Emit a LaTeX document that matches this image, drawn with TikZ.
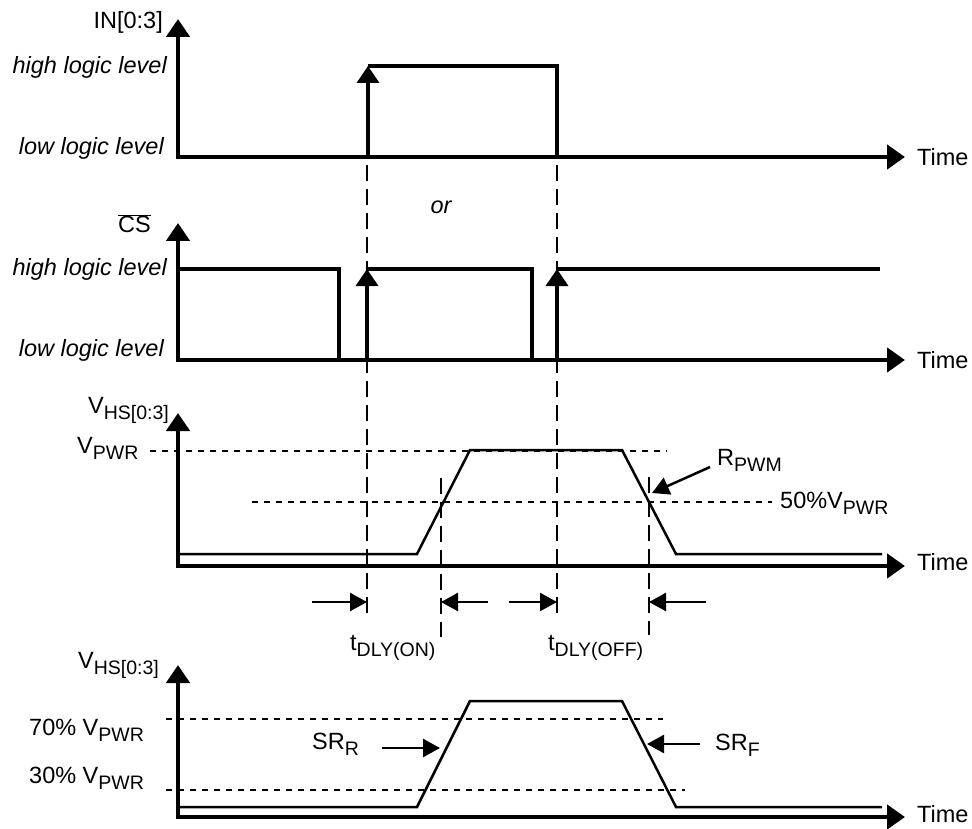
\documentclass[tikz,border=0pt]{standalone}
\usepackage{fontspec}
\setmainfont{Liberation Sans}
\usetikzlibrary{arrows.meta}
\newcommand{\lsub}[1]{\raisebox{-6pt}{\fontsize{19.5}{22}\selectfont #1}}
\tikzset{
  lbl/.style={inner sep=0pt, font=\fontsize{23.5}{27}\selectfont},
  ilbl/.style={inner sep=0pt, font=\fontsize{23.5}{27}\selectfont\itshape},
  axes/.style={line width=4.5pt, line join=miter, {Triangle[width=23pt,length=18pt]}-{Triangle[width=24pt,length=18pt]}},
  sig/.style={line width=3.5pt, line join=miter},
  sigup/.style={line width=3.5pt, -{Triangle[width=22pt,length=17pt]}},
  wave/.style={line width=2.5pt, line join=miter},
  vdash/.style={line width=1.8pt, dash pattern=on 16pt off 8pt},
  hdot/.style={line width=2pt, dash pattern=on 6pt off 6pt},
  dimarrow/.style={line width=2.5pt, -{Triangle[width=18pt,length=17pt]}},
}
\begin{document}
\begin{tikzpicture}[x=1pt,y=-1pt]
\useasboundingbox (0,0) rectangle (972,829);

% vertical dashed reference lines
\draw[vdash] (367,165) -- (367,620);
\draw[vdash] (557,165) -- (557,620);
\draw[vdash] (441,478) -- (441,637);
\draw[vdash] (649,477) -- (649,635);

% ---------- Panel 1: IN[0:3]
\draw[axes] (178,19) -- (178,157) -- (905,157);
\node[lbl, anchor=east] (in) at (163,22) {IN[0:3]};
\node[ilbl, anchor=east] (hl1) at (167,67) {high logic level};
\node[ilbl, anchor=east] (ll1) at (164,148) {low logic level};
\node[lbl, anchor=west] (t1) at (917,157) {Time};
\draw[sigup] (368,157) -- (368,66);
\draw[sig] (368,66) -- (557,66) -- (557,157);

\node[ilbl] (or) at (441,207) {or};

% ---------- Panel 2: CS
\draw[axes] (178,223) -- (178,360) -- (905,360);
\node[lbl, anchor=base east] (cs) at (151,233) {$\overline{\mbox{CS}}$};
\node[ilbl, anchor=east] (hl2) at (167,269) {high logic level};
\node[ilbl, anchor=east] (ll2) at (164,350) {low logic level};
\node[lbl, anchor=west] (t2) at (917,360) {Time};
\draw[sig] (178,269) -- (339,269) -- (339,360);
\draw[sigup] (367,360) -- (367,269);
\draw[sig] (367,269) -- (532,269) -- (532,360);
\draw[sigup] (557,360) -- (557,269);
\draw[sig] (557,269) -- (880,269);

% ---------- Panel 3: V_HS with delays
\draw[hdot] (150,451) -- (667,451);
\draw[hdot] (252,502) -- (772,502);
\draw[axes] (178,413) -- (178,566) -- (905,566);
\node[lbl, anchor=base west] (vhs1) at (88,413) {V\lsub{HS[0:3]}};
\node[lbl, anchor=base west] (vpwr) at (77,453) {V\lsub{PWR}};
\node[lbl, anchor=base west] (v50) at (780,508) {50\%V\lsub{PWR}};
\node[lbl, anchor=base west] (rpwm) at (717,465) {R\lsub{PWM}};
\node[lbl, anchor=west] (t3) at (917,562) {Time};
\draw[wave] (178,554) -- (417,554) -- (470,450) -- (622,450) -- (676,554) -- (882,554);
\draw[dimarrow] (710,467) -- (652,493);

\draw[dimarrow] (312,602) -- (367,602);
\draw[dimarrow] (488,602) -- (441,602);
\draw[dimarrow] (509,602) -- (557,602);
\draw[dimarrow] (706,602) -- (649,602);
\node[lbl, anchor=base west] (ton) at (350,650) {t\lsub{DLY(ON)}};
\node[lbl, anchor=base west] (toff) at (548,650) {t\lsub{DLY(OFF)}};

% ---------- Panel 4: slew rates
\draw[hdot] (166,719) -- (663,719);
\draw[hdot] (166,790) -- (685,790);
\draw[axes] (178,665) -- (178,817) -- (905,817);
\node[lbl, anchor=base west] (vhs2) at (78,668) {V\lsub{HS[0:3]}};
\node[lbl, anchor=base west] (v70) at (29,735) {70\% V\lsub{PWR}};
\node[lbl, anchor=base west] (v30) at (29,783) {30\% V\lsub{PWR}};
\node[lbl, anchor=base west] (srr) at (312,749) {SR\lsub{R}};
\node[lbl, anchor=base west] (srf) at (715,750) {SR\lsub{F}};
\node[lbl, anchor=west] (t4) at (917,814) {Time};
\draw[wave] (178,807) -- (417,807) -- (470,701) -- (622,701) -- (676,807) -- (882,807);
\draw[dimarrow] (382,748) -- (440,748);
\draw[dimarrow] (700,744) -- (647,744);
\end{tikzpicture}
\end{document}
